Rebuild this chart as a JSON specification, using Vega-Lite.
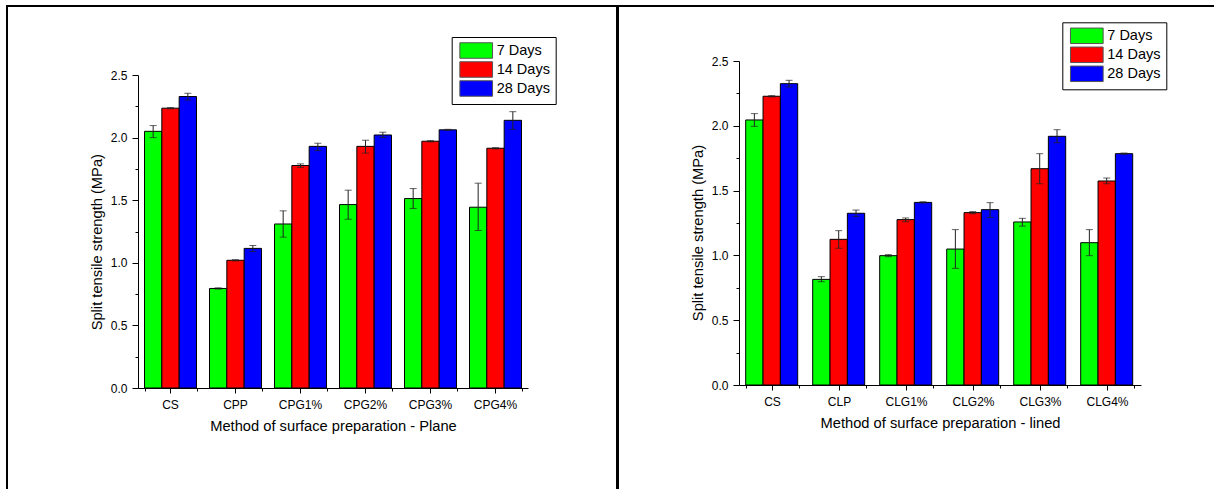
{
  "$schema": "https://vega.github.io/schema/vega-lite/v6.json",
  "padding": {"left": 6, "top": 5, "right": 0, "bottom": 0},
  "background": "white",
  "spacing": -3,
  "config": {
    "font": "Liberation Sans",
    "view": {"stroke": "black", "strokeWidth": 2},
    "axis": {"labelFont": "Liberation Sans", "labelFontSize": 12, "labelColor": "black", "titleFont": "Liberation Sans", "titleFontSize": 14.7, "titleFontWeight": "normal", "titleColor": "black", "domainColor": "black", "tickColor": "black", "domainWidth": 1, "tickWidth": 1, "grid": false},
    "legend": {"orient": "none", "title": null, "direction": "vertical", "symbolType": "M-2.11,-1L2.11,-1L2.11,1L-2.11,1Z", "symbolSize": 240, "symbolStrokeColor": "#555555", "symbolStrokeWidth": 1, "labelFont": "Liberation Sans", "labelFontSize": 14.5, "labelColor": "black", "strokeColor": "black", "strokeWidth": 1, "padding": 5, "rowPadding": -3, "labelOffset": 12, "symbolOffset": 11}
  },
  "datasets": {
    "plane": [
      {"method": "CS", "age": "7 Days", "value": 2.05, "lo": 2.0, "hi": 2.096},
      {"method": "CS", "age": "14 Days", "value": 2.235, "lo": 2.23, "hi": 2.24},
      {"method": "CS", "age": "28 Days", "value": 2.328, "lo": 2.3, "hi": 2.354},
      {"method": "CPP", "age": "7 Days", "value": 0.795, "lo": 0.79, "hi": 0.8},
      {"method": "CPP", "age": "14 Days", "value": 1.02, "lo": 1.015, "hi": 1.025},
      {"method": "CPP", "age": "28 Days", "value": 1.115, "lo": 1.09, "hi": 1.138},
      {"method": "CPG1%", "age": "7 Days", "value": 1.31, "lo": 1.205, "hi": 1.415},
      {"method": "CPG1%", "age": "14 Days", "value": 1.777, "lo": 1.762, "hi": 1.79},
      {"method": "CPG1%", "age": "28 Days", "value": 1.93, "lo": 1.897, "hi": 1.955},
      {"method": "CPG2%", "age": "7 Days", "value": 1.465, "lo": 1.348, "hi": 1.58},
      {"method": "CPG2%", "age": "14 Days", "value": 1.93, "lo": 1.876, "hi": 1.979},
      {"method": "CPG2%", "age": "28 Days", "value": 2.021, "lo": 2.0, "hi": 2.043},
      {"method": "CPG3%", "age": "7 Days", "value": 1.513, "lo": 1.434, "hi": 1.593},
      {"method": "CPG3%", "age": "14 Days", "value": 1.971, "lo": 1.966, "hi": 1.976},
      {"method": "CPG3%", "age": "28 Days", "value": 2.062, "lo": 2.058, "hi": 2.066},
      {"method": "CPG4%", "age": "7 Days", "value": 1.444, "lo": 1.258, "hi": 1.636},
      {"method": "CPG4%", "age": "14 Days", "value": 1.915, "lo": 1.91, "hi": 1.92},
      {"method": "CPG4%", "age": "28 Days", "value": 2.138, "lo": 2.066, "hi": 2.207}
    ],
    "lined": [
      {"method": "CS", "age": "7 Days", "value": 2.045, "lo": 1.996, "hi": 2.094},
      {"method": "CS", "age": "14 Days", "value": 2.228, "lo": 2.223, "hi": 2.233},
      {"method": "CS", "age": "28 Days", "value": 2.325, "lo": 2.299, "hi": 2.351},
      {"method": "CLP", "age": "7 Days", "value": 0.815, "lo": 0.797, "hi": 0.836},
      {"method": "CLP", "age": "14 Days", "value": 1.124, "lo": 1.055, "hi": 1.191},
      {"method": "CLP", "age": "28 Days", "value": 1.325, "lo": 1.299, "hi": 1.35},
      {"method": "CLG1%", "age": "7 Days", "value": 0.998, "lo": 0.99, "hi": 1.006},
      {"method": "CLG1%", "age": "14 Days", "value": 1.276, "lo": 1.26, "hi": 1.289},
      {"method": "CLG1%", "age": "28 Days", "value": 1.409, "lo": 1.404, "hi": 1.414},
      {"method": "CLG2%", "age": "7 Days", "value": 1.049, "lo": 0.9, "hi": 1.199},
      {"method": "CLG2%", "age": "14 Days", "value": 1.33, "lo": 1.322, "hi": 1.338},
      {"method": "CLG2%", "age": "28 Days", "value": 1.353, "lo": 1.293, "hi": 1.407},
      {"method": "CLG3%", "age": "7 Days", "value": 1.258, "lo": 1.226, "hi": 1.286},
      {"method": "CLG3%", "age": "14 Days", "value": 1.669, "lo": 1.553, "hi": 1.785},
      {"method": "CLG3%", "age": "28 Days", "value": 1.919, "lo": 1.87, "hi": 1.97},
      {"method": "CLG4%", "age": "7 Days", "value": 1.098, "lo": 0.998, "hi": 1.199},
      {"method": "CLG4%", "age": "14 Days", "value": 1.574, "lo": 1.553, "hi": 1.597},
      {"method": "CLG4%", "age": "28 Days", "value": 1.785, "lo": 1.78, "hi": 1.79}
    ]
  },
  "hconcat": [
    {
      "width": 610,
      "height": 490,
      "data": {"name": "plane"},
      "layer": [
        {
          "mark": {"type": "bar", "stroke": "black", "strokeWidth": 1},
          "encoding": {
            "x": {"field": "method", "type": "nominal", "sort": null,
              "scale": {"range": [131, 521], "paddingInner": 0.2, "paddingOuter": 0.1},
              "axis": {"orient": "bottom", "offset": -108, "labelAngle": 0, "tickSize": 5, "labelPadding": 6, "domain": true, "title": "Method of surface preparation - Plane", "titlePadding": 8}},
            "xOffset": {"field": "age", "type": "nominal", "sort": ["7 Days", "14 Days", "28 Days"], "scale": {"paddingInner": 0, "paddingOuter": 0}},
            "y": {"field": "value", "type": "quantitative",
              "scale": {"domain": [0, 2.5], "range": [382, 69], "nice": false},
              "axis": {"offset": -131, "values": [0, 0.25, 0.5, 0.75, 1, 1.25, 1.5, 1.75, 2, 2.25, 2.5], "labelExpr": "(datum.value*2)%1==0 ? format(datum.value,'.1f') : ''", "tickSize": {"condition": {"test": "(datum.value*2)%1!=0", "value": 3}, "value": 6}, "labelPadding": 5, "title": "Split tensile strength (MPa)", "titlePadding": 6, "titleY": 235.7}},
            "fill": {"field": "age", "type": "nominal", "sort": ["7 Days", "14 Days", "28 Days"],
              "scale": {"domain": ["7 Days", "14 Days", "28 Days"], "range": ["#00ff00", "#ff0000", "#0000ff"]},
              "legend": {"legendX": 444.7, "legendY": 31}}
          }
        },
        {
          "mark": {"type": "rule", "color": "#222222", "strokeWidth": 1},
          "encoding": {
            "x": {"field": "method", "type": "nominal", "sort": null,
              "axis": {"orient": "bottom", "offset": -108, "tickBand": "extent", "labels": false, "domain": false, "tickSize": 3, "title": null}},
            "xOffset": {"field": "age", "type": "nominal", "sort": ["7 Days", "14 Days", "28 Days"]},
            "y": {"field": "lo", "type": "quantitative"},
            "y2": {"field": "hi"}
          }
        },
        {
          "mark": {"type": "tick", "color": "#222222", "thickness": 1, "size": 7},
          "encoding": {
            "x": {"field": "method", "type": "nominal", "sort": null, "axis": null},
            "xOffset": {"field": "age", "type": "nominal", "sort": ["7 Days", "14 Days", "28 Days"]},
            "y": {"field": "lo", "type": "quantitative"}
          }
        },
        {
          "mark": {"type": "tick", "color": "#222222", "thickness": 1, "size": 7},
          "encoding": {
            "x": {"field": "method", "type": "nominal", "sort": null, "axis": null},
            "xOffset": {"field": "age", "type": "nominal", "sort": ["7 Days", "14 Days", "28 Days"]},
            "y": {"field": "hi", "type": "quantitative"}
          }
        }
      ],
      "resolve": {"axis": {"x": "independent"}}
    },
    {
      "width": 610,
      "height": 490,
      "data": {"name": "lined"},
      "layer": [
        {
          "mark": {"type": "bar", "stroke": "black", "strokeWidth": 1},
          "encoding": {
            "x": {"field": "method", "type": "nominal", "sort": null,
              "scale": {"range": [121, 523], "paddingInner": 0.2, "paddingOuter": 0.1},
              "axis": {"orient": "bottom", "offset": -111, "labelAngle": 0, "tickSize": 5, "labelPadding": 6, "domain": true, "title": "Method of surface preparation - lined", "titlePadding": 8}},
            "xOffset": {"field": "age", "type": "nominal", "sort": ["7 Days", "14 Days", "28 Days"], "scale": {"paddingInner": 0, "paddingOuter": 0}},
            "y": {"field": "value", "type": "quantitative",
              "scale": {"domain": [0, 2.5], "range": [379, 55], "nice": false},
              "axis": {"offset": -121, "values": [0, 0.25, 0.5, 0.75, 1, 1.25, 1.5, 1.75, 2, 2.25, 2.5], "labelExpr": "(datum.value*2)%1==0 ? format(datum.value,'.1f') : ''", "tickSize": {"condition": {"test": "(datum.value*2)%1!=0", "value": 3}, "value": 6}, "labelPadding": 5, "title": "Split tensile strength (MPa)", "titlePadding": 6, "titleY": 226.5}},
            "fill": {"field": "age", "type": "nominal", "sort": ["7 Days", "14 Days", "28 Days"],
              "scale": {"domain": ["7 Days", "14 Days", "28 Days"], "range": ["#00ff00", "#ff0000", "#0000ff"]},
              "legend": {"legendX": 444.3, "legendY": 16.3}}
          }
        },
        {
          "mark": {"type": "rule", "color": "#222222", "strokeWidth": 1},
          "encoding": {
            "x": {"field": "method", "type": "nominal", "sort": null,
              "axis": {"orient": "bottom", "offset": -111, "tickBand": "extent", "labels": false, "domain": false, "tickSize": 3, "title": null}},
            "xOffset": {"field": "age", "type": "nominal", "sort": ["7 Days", "14 Days", "28 Days"]},
            "y": {"field": "lo", "type": "quantitative"},
            "y2": {"field": "hi"}
          }
        },
        {
          "mark": {"type": "tick", "color": "#222222", "thickness": 1, "size": 7},
          "encoding": {
            "x": {"field": "method", "type": "nominal", "sort": null, "axis": null},
            "xOffset": {"field": "age", "type": "nominal", "sort": ["7 Days", "14 Days", "28 Days"]},
            "y": {"field": "lo", "type": "quantitative"}
          }
        },
        {
          "mark": {"type": "tick", "color": "#222222", "thickness": 1, "size": 7},
          "encoding": {
            "x": {"field": "method", "type": "nominal", "sort": null, "axis": null},
            "xOffset": {"field": "age", "type": "nominal", "sort": ["7 Days", "14 Days", "28 Days"]},
            "y": {"field": "hi", "type": "quantitative"}
          }
        }
      ],
      "resolve": {"axis": {"x": "independent"}}
    }
  ],
  "resolve": {"scale": {"fill": "independent", "x": "independent", "y": "independent"}, "legend": {"fill": "independent"}}
}
